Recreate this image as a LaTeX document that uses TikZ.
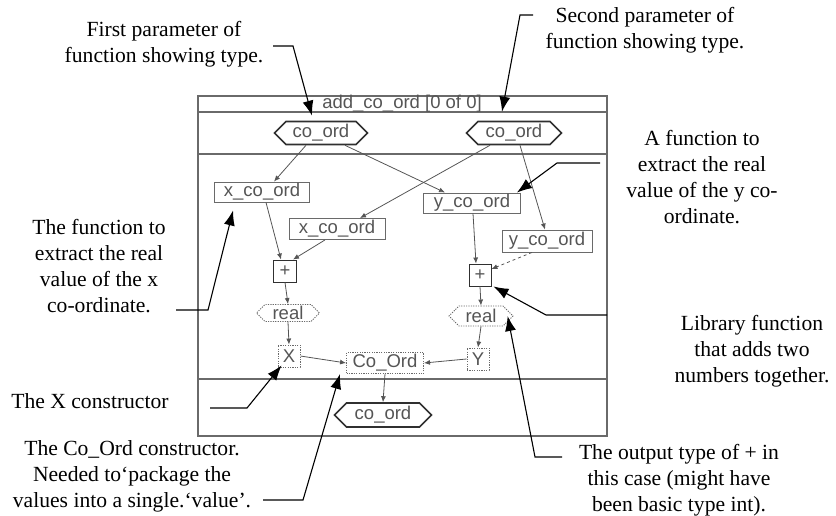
\documentclass[tikz,border=0pt]{standalone}
\usepackage{fontspec}
\setmainfont{Liberation Serif}
\newfontfamily\guifont{Liberation Sans}
\usetikzlibrary{arrows.meta,shapes.symbols}
\definecolor{marco}{HTML}{6A6A6A}
\definecolor{letra}{HTML}{555555}
\definecolor{borde}{HTML}{303030}

\begin{document}
\begin{tikzpicture}[x=1pt,y=-1pt,
    nota/.style={align=center,inner sep=0pt,font=\fontsize{21.6}{26}\selectfont},
    guia/.style={line width=1.1pt,-{Latex[length=15pt,width=11pt]}},
    caja/.style={draw=marco,line width=0.9pt,inner sep=0pt,text=letra,font=\guifont\fontsize{18.5}{20}\selectfont},
    punteada/.style={caja,dash pattern=on 1.2pt off 1.2pt},
    tipo/.style={caja,shape=signal,signal to=east and west,draw=borde,line width=1.6pt},
    tipop/.style={punteada,shape=signal,signal to=east and west},
    flujo/.style={draw=letra,line width=0.8pt,-{Latex[length=6pt,width=5pt]}}]
    \useasboundingbox (0,0) rectangle (836,516);

    % Marco de la funcion
    \draw[marco,line width=1.2pt] (198,96) rectangle (607,436);
    \draw[marco,line width=1.2pt] (198,112) -- (607,112);
    \draw[marco,line width=1.2pt] (198,154) -- (607,154);
    \draw[marco,line width=1.2pt] (198,379) -- (607,379);
    \node[text=letra,inner sep=0pt,font=\guifont\fontsize{18.5}{20}\selectfont] (titulo) at (402,104) {add\_co\_ord [0 of 0]};

    % Parametros
    \node[tipo,minimum width=93,minimum height=23] (pa) at (321,133) {co\_ord};
    \node[tipo,minimum width=95,minimum height=23] (pb) at (514,133) {co\_ord};

    % Selectores
    \node[caja,minimum width=95,minimum height=20] (xa) at (262,192) {x\_co\_ord};
    \node[caja,minimum width=96,minimum height=21] (xb) at (337,229) {x\_co\_ord};
    \node[caja,minimum width=97,minimum height=20] (ya) at (472,203) {y\_co\_ord};
    \node[caja,minimum width=90,minimum height=22] (yb) at (547,241) {y\_co\_ord};

    % Sumas y tipos de salida
    \node[caja,draw=borde,minimum width=23,minimum height=22] (suma) at (285,271) {+};
    \node[caja,draw=borde,minimum width=22,minimum height=22] (sumb) at (480,275) {+};
    \node[tipop,minimum width=63,minimum height=17] (reala) at (288,313) {real};
    \node[tipop,minimum width=64,minimum height=20] (realb) at (481,316) {real};

    % Constructores
    \node[punteada,minimum width=22,minimum height=22] (cx) at (289,356) {X};
    \node[punteada,minimum width=22,minimum height=22] (cy) at (478,359) {Y};
    \node[punteada,minimum width=77,minimum height=21] (cord) at (385,363) {Co\_Ord};
    \node[tipo,minimum width=97,minimum height=24] (sal) at (383,415) {co\_ord};

    % Flujo de datos
    \draw[flujo] ([xshift=-15pt]pa.south) -- ([xshift=12pt]xa.north);
    \draw[flujo] ([xshift=24pt]pa.south) -- ([xshift=-27pt]ya.north);
    \draw[flujo] ([xshift=-24pt]pb.south) -- ([xshift=23pt]xb.north);
    \draw[flujo] ([xshift=6pt]pb.south) -- ([xshift=-2pt]yb.north);
    \draw[flujo] ([xshift=4pt]xa.south) -- ([xshift=-4pt]suma.north);
    \draw[flujo] ([xshift=-12pt]xb.south) -- ([xshift=8pt]suma.north);
    \draw[flujo] ([xshift=1pt]ya.south) -- ([xshift=-4pt]sumb.north);
    \draw[flujo,dashed] ([xshift=-15pt]yb.south) -- ([yshift=6pt]sumb.east);
    \draw[flujo] (suma.south) -- (reala.north);
    \draw[flujo] (sumb.south) -- (realb.north);
    \draw[flujo] (reala.south) -- (cx.north);
    \draw[flujo] (realb.south) -- (cy.north);
    \draw[flujo] (cx.east) -- (cord.west);
    \draw[flujo] (cy.west) -- (cord.east);
    \draw[flujo] (cord.south) -- (sal.north);

    % Notas de la izquierda
    \node[nota] (n1) at (164,44) {First parameter of\\function showing type.};
    \coordinate (k1a) at (273,46);
    \coordinate (k1b) at (293,46);
    \draw[guia] (k1a) -- (k1b) -- ([shift={(-9pt,5pt)}]pa.north);

    \node[nota] (n4) at (99,266) {The function to\\extract the real\\value of the x\\co-ordinate.};
    \coordinate (k4a) at (176,310);
    \coordinate (k4b) at (208,310);
    \draw[guia] (k4a) -- (k4b) -- ([shift={(19pt,-8pt)}]xa.south west);

    \node[nota] (n5) at (90,401) {The X constructor};
    \coordinate (k5a) at (210,408);
    \coordinate (k5b) at (247,408);
    \draw[guia] (k5a) -- (k5b) -- ([shift={(4pt,2pt)}]cx.south west);

    \node[nota] (n6) at (132,476) {The Co\_Ord constructor.\\Needed to‘package the\\values into a single.‘value’.};
    \coordinate (k6a) at (263,500);
    \coordinate (k6b) at (303,500);
    \draw[guia] (k6a) -- (k6b) -- ([xshift=-6pt]cord.south west);

    % Notas de la derecha
    \node[nota] (n2) at (645,30) {Second parameter of\\function showing type.};
    \coordinate (k2a) at (533,15);
    \coordinate (k2b) at (520,15);
    \draw[guia] (k2a) -- (k2b) -- ([shift={(-12pt,9pt)}]pb.north);

    \node[nota] (n3) at (702,177) {A function to\\extract the real\\value of the y co-\\ordinate.};
    \coordinate (k3a) at (600,163);
    \coordinate (k3b) at (557,163);
    \draw[guia] (k3a) -- (k3b) -- ([xshift=-4pt]ya.north east);

    \node[nota] (n7) at (752,351) {Library function\\that adds two\\numbers together.};
    \coordinate (k7a) at (607,315);
    \coordinate (k7b) at (546,315);
    \draw[guia] (k7a) -- (k7b) -- ([xshift=2pt]sumb.south east);

    \node[nota] (n8) at (679,480) {The output type of + in\\this case (might have\\been basic type int).};
    \coordinate (k8a) at (562,457);
    \coordinate (k8b) at (535,457);
    \draw[guia] (k8a) -- (k8b) -- ([xshift=-6pt]realb.east);
\end{tikzpicture}
\end{document}
